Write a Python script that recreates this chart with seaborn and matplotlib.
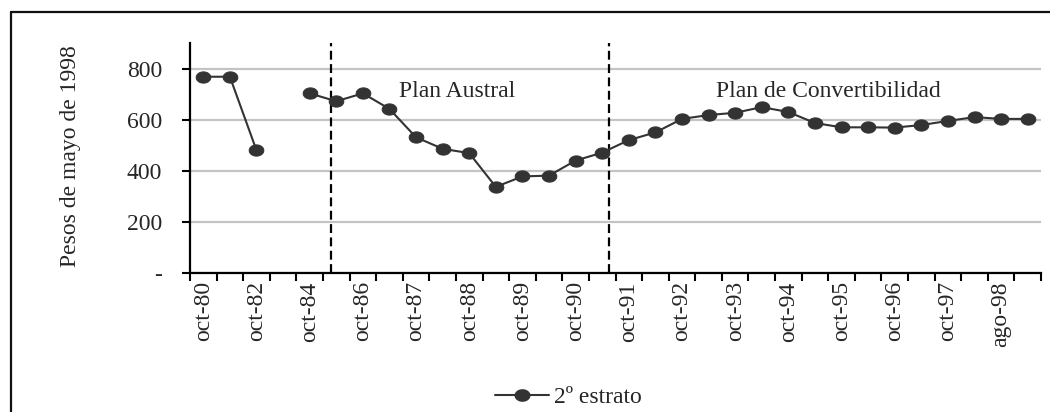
import numpy as np
import pandas as pd
import matplotlib
matplotlib.use("Agg")
import matplotlib.pyplot as plt
from matplotlib.path import Path
from matplotlib.lines import Line2D
import seaborn as sns

# Survey waves (annual until 1986, then May/October rounds)
periods = ["oct-80", "oct-81", "oct-82", "oct-83", "oct-84", "oct-85", "oct-86",
           "may-87", "oct-87", "may-88", "oct-88", "may-89", "oct-89", "may-90",
           "oct-90", "may-91", "oct-91", "may-92", "oct-92", "may-93", "oct-93",
           "may-94", "oct-94", "may-95", "oct-95", "may-96", "oct-96", "may-97",
           "oct-97", "may-98", "ago-98", "oct-98"]

# Mean income, 2nd stratum, in pesos of May 1998 (oct-83 not surveyed)
income = [768, 768, 480, np.nan, 703, 672, 703,
          642, 531, 486, 469, 337, 378, 381,
          440, 471, 520, 550, 603, 618, 627,
          649, 630, 587, 570, 570, 569, 579,
          595, 610, 603, 603]

# Continuous stretches of the series (the oct-83 gap splits it)
stretch = [0, 0, 0, -1, 1, 1, 1,
           1, 1, 1, 1, 1, 1, 1,
           1, 1, 1, 1, 1, 1, 1,
           1, 1, 1, 1, 1, 1, 1,
           1, 1, 1, 1]

y_ticks = [0, 200, 400, 600, 800]
y_tick_labels = ["-", "200", "400", "600", "800"]

# Policy milestones (position on the category axis) and their captions
plan_lines = [4.8, 15.25]
plan_names = ["Plan Austral", "Plan de Convertibilidad"]
plan_label_x = [9.55, 23.5]
plan_label_y = [712, 712]

series_name = "2º estrato"

df = pd.DataFrame({"pos": np.arange(len(periods)), "periodo": periods,
                   "ingreso": income, "tramo": stretch})
df = df[df["tramo"] >= 0]

sns.set_style("white")
plt.rcParams["font.family"] = ["Liberation Serif", "DejaVu Serif"]
plt.rcParams["font.size"] = 17

fig = plt.figure(figsize=(10.5, 4.12), dpi=100)
W, H = 1050, 412
ax = fig.add_axes([190 / W, 1 - 273 / H, 851 / W, 230 / H])

# slightly wide elliptical marker
t = np.linspace(0, 2 * np.pi, 64)
ellipse = Path(np.column_stack([1.3 * np.cos(t), np.sin(t)]), closed=True)

dark = "#333333"
sns.lineplot(data=df, x="pos", y="ingreso", units="tramo", estimator=None,
             color=dark, lw=1.5, marker=ellipse, markersize=10.5,
             markeredgecolor=dark, markerfacecolor=dark, ax=ax, zorder=3)

for xv in plan_lines:
    ax.axvline(xv, color="black", lw=1.6, linestyle=(0, (4, 2)), zorder=2)
for name, tx, ty in zip(plan_names, plan_label_x, plan_label_y):
    ax.text(tx, ty, name, ha="center", va="center", fontsize=17)

ax.set_xlim(-0.5, len(periods) - 0.5)
ax.set_ylim(0, 900)

ax.set_yticks(y_ticks)
ax.set_yticklabels(y_tick_labels)
ax.yaxis.grid(True, color="#c4c4c4", lw=1.6)
ax.xaxis.grid(False)
ax.set_axisbelow(True)

# boundary ticks between categories, labels on every second category
ax.set_xticks(np.arange(-0.5, len(periods), 1.0))
ax.set_xticklabels([])
ax.set_xticks(np.arange(0, len(periods), 2), minor=True)
ax.set_xticklabels(periods[::2], minor=True, rotation=90, fontsize=17)
ax.tick_params(axis="x", which="major", direction="out", length=6, width=1.5,
               color="black", bottom=True)
ax.tick_params(axis="x", which="minor", length=0, pad=6)
ax.tick_params(axis="y", direction="out", length=6, width=1.5, color="black",
               left=True, pad=14, labelsize=17)

for side in ["top", "right"]:
    ax.spines[side].set_visible(False)
for side in ["left", "bottom"]:
    ax.spines[side].set_color("black")
    ax.spines[side].set_linewidth(1.6)

ax.set_xlabel("")
ax.set_ylabel("Pesos de mayo de 1998", fontsize=17)
ax.yaxis.set_label_coords(-0.128, 0.51)

handle = Line2D([], [], color=dark, lw=1.5, marker=ellipse, markersize=10.5,
                markerfacecolor=dark, markeredgecolor=dark)
if ax.get_legend() is not None:
    ax.get_legend().remove()
fig.legend([handle], [series_name], loc="center",
           bbox_to_anchor=(0.541, 0.036), frameon=False, fontsize=17,
           handlelength=2.3, handletextpad=0.2, borderpad=0.2)

# chart area frame (continues beyond the right and bottom edges)
fx = 10.5 / W
fy = 1 - 11.5 / H
fig.add_artist(Line2D([fx, fx], [0, fy], transform=fig.transFigure,
                      color="#111111", lw=1.6))
fig.add_artist(Line2D([fx, 1], [fy, fy], transform=fig.transFigure,
                      color="#111111", lw=1.6))

fig.savefig("out.png", dpi=100, facecolor="white")
